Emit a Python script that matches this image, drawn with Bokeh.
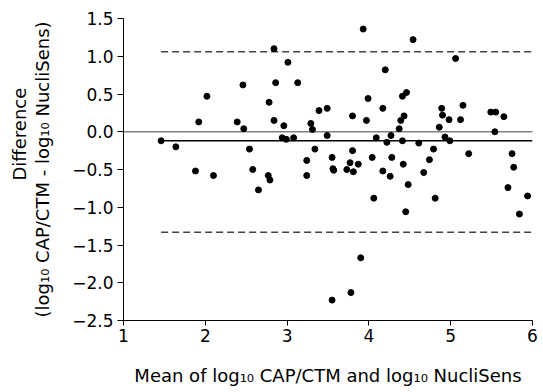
from bokeh.plotting import figure
from bokeh.models import Range1d, FixedTicker, CustomJSTickFormatter, Span, Title
from bokeh.embed import file_html
from bokeh.resources import INLINE

# Mean of log10 CAP/CTM and log10 NucliSens
mean_vals = [1.46, 1.64, 1.88, 2.02, 1.92, 2.10, 2.39, 2.46, 2.47, 2.54,
             2.58, 2.65, 2.77, 2.79, 2.78, 2.84, 2.86, 2.84, 3.01, 3.13,
             2.96, 2.94, 2.99, 3.08, 3.24, 3.24, 3.34, 3.29, 3.31, 3.39,
             3.49, 3.49, 3.55, 3.56, 3.57, 3.73, 3.77, 3.80, 3.81, 3.87,
             3.80, 3.93, 3.99, 3.97, 4.04, 4.09, 4.20, 4.17, 4.22, 4.27,
             4.28, 4.17, 4.26, 4.06, 4.41, 4.46, 4.39, 4.43, 4.37, 4.41,
             4.42, 4.45, 4.48, 4.54, 4.61, 4.67, 4.74, 4.79, 4.81, 4.89,
             4.90, 4.86, 4.93, 4.98, 4.99, 5.06, 5.15, 5.12, 5.22, 5.49,
             5.55, 5.54, 5.65, 5.75, 5.77, 5.70, 5.94, 5.84, 3.90, 3.55,
             3.78]
# Difference (log10 CAP/CTM - log10 NucliSens)
diff_vals = [-0.12, -0.20, -0.52, 0.47, 0.13, -0.58, 0.13, 0.62, 0.04, -0.23,
             -0.50, -0.77, -0.58, -0.64, 0.39, 1.10, 0.65, 0.15, 0.92, 0.65,
             0.08, -0.08, -0.10, -0.08, -0.58, -0.38, -0.23, 0.11, 0.03, 0.28,
             0.31, -0.05, -0.34, -0.49, -0.51, -0.50, -0.41, -0.25, -0.53, -0.43,
             0.21, 1.36, 0.44, 0.15, -0.34, -0.08, 0.82, 0.31, -0.14, -0.05,
             -0.34, -0.52, -0.59, -0.88, 0.47, 0.52, 0.15, 0.21, 0.04, -0.12,
             -0.43, -1.06, -0.70, 1.22, -0.15, -0.54, -0.37, -0.23, -0.88, 0.31,
             0.22, 0.06, -0.07, 0.16, -0.12, 0.97, 0.35, 0.16, -0.29, 0.26,
             0.26, 0.00, 0.20, -0.29, -0.47, -0.74, -0.85, -1.09, -1.67, -2.23,
             -2.13]

bias = -0.12
upper_loa = 1.06
lower_loa = -1.33

y_ticks = [-2.5, -2.0, -1.5, -1.0, -0.5, 0.0, 0.5, 1.0, 1.5]
x_ticks = [1, 2, 3, 4, 5, 6]

x_label = "Mean of log\u2081\u2080 CAP/CTM and log\u2081\u2080 NucliSens"
y_label_1 = "Difference"
y_label_2 = "(log\u2081\u2080 CAP/CTM - log\u2081\u2080 NucliSens)"

FONT = "DejaVu Sans"

p = figure(width=543, height=392, output_backend="svg", toolbar_location=None,
           x_range=Range1d(1, 6), y_range=Range1d(-2.5, 1.5),
           min_border_left=123, min_border_right=11, min_border_top=18,
           min_border_bottom=72)
p.outline_line_color = None
p.xgrid.visible = False
p.ygrid.visible = False
p.background_fill_color = "white"
p.border_fill_color = "white"

# zero reference (dotted)
p.add_layout(Span(location=0, dimension="width", line_color="black",
                  line_dash="1 1", line_width=1.3))

x0 = min(mean_vals)
x1 = p.x_range.end
p.line([x0, x1], [bias, bias], line_color="black", line_width=1.5)
p.line([x0, x1], [upper_loa, upper_loa], line_color="#444444", line_width=1.5,
       line_dash="7 4")
p.line([x0, x1], [lower_loa, lower_loa], line_color="#444444", line_width=1.5,
       line_dash="7 4")

p.scatter(mean_vals, diff_vals, size=6, color="black")

for ax in (p.xaxis[0], p.yaxis[0]):
    ax.axis_line_color = "black"
    ax.axis_line_width = 1
    ax.major_tick_line_color = "black"
    ax.minor_tick_line_color = None
    ax.major_tick_in = 0
    ax.major_label_text_font = FONT
    ax.major_label_text_font_size = "17px"
    ax.major_label_text_color = "black"
    ax.axis_label_text_font = FONT
    ax.axis_label_text_font_style = "normal"
    ax.axis_label_text_font_size = "18px"
    ax.axis_label_text_color = "black"

p.xaxis.ticker = FixedTicker(ticks=x_ticks)
p.xaxis.major_tick_out = 5
p.xaxis.major_label_standoff = 3
p.xaxis.axis_label = x_label
p.xaxis.axis_label_standoff = 20

p.yaxis.ticker = FixedTicker(ticks=y_ticks)
p.yaxis.major_tick_out = 6
p.yaxis.major_label_standoff = 4
p.yaxis.formatter = CustomJSTickFormatter(
    code="return (tick < 0 ? '\u2212' : '') + Math.abs(tick).toFixed(1);")
p.yaxis.axis_label = y_label_2
p.yaxis.axis_label_standoff = 16

p.add_layout(Title(text=y_label_1, align="left", offset=140, standoff=0,
                   text_font=FONT, text_font_size="18px",
                   text_font_style="normal", text_color="black"), "left")

open("out.html", "w").write(file_html(p, INLINE))
